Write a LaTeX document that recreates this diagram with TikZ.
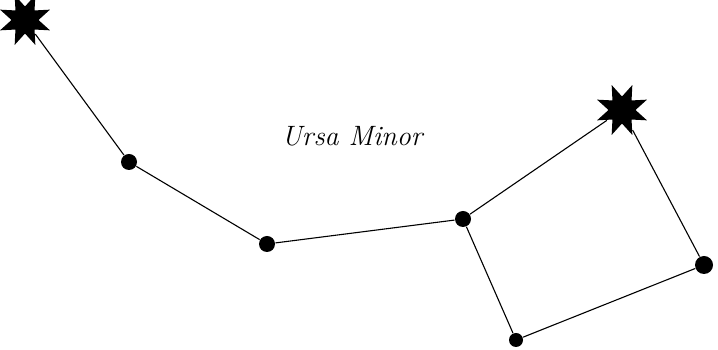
\documentclass[tikz,border=0pt]{standalone}
\usetikzlibrary{shapes.geometric}

\tikzset{
  brightstar/.style={star, star points=8, star point ratio=0.5, fill=black,
    minimum size=27pt, inner sep=0pt},
  faintstar/.style={circle, fill=black, inner sep=0pt, minimum size=#1},
  faintstar/.default=16pt,
}

\begin{document}
\begin{tikzpicture}[x=1pt, y=1pt, line width=1.1pt]
  \useasboundingbox (0,0) rectangle (718,350);

  % stars of the constellation
  \node[brightstar] (polaris) at (25,330) {};
  \node[faintstar] (yildun) at (129,188) {};
  \node[faintstar] (epsilon) at (267,106) {};
  \node[faintstar] (zeta) at (463,131) {};
  \node[brightstar] (kochab) at (622,240) {};
  \node[faintstar=18pt] (pherkad) at (704,85) {};
  \node[faintstar=14pt] (eta) at (516,10) {};

  \node[font=\fontsize{28}{30}\selectfont\itshape] (name) at (352,214) {Ursa Minor};

  % lines
  \draw (polaris) -- (yildun) -- (epsilon) -- (zeta) -- (kochab)
    -- (pherkad) -- (eta) -- (zeta);
\end{tikzpicture}
\end{document}
